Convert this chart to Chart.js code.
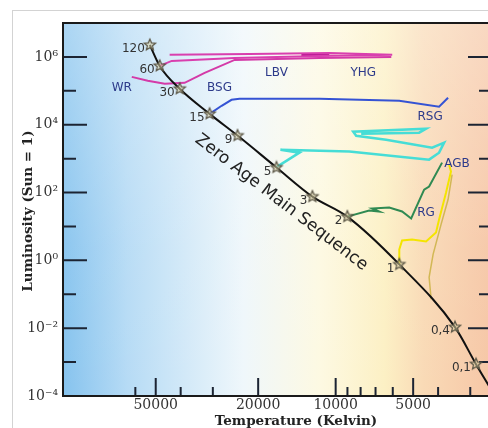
<!DOCTYPE html>
<html>
<head>
<meta charset="utf-8">
<script src="https://cdn.jsdelivr.net/npm/chart.js@4.4.0/dist/chart.umd.min.js"></script>
<style>
  html, body { margin: 0; padding: 0; background: #fff; width: 488px; height: 428px; overflow: hidden; }
  #frame { position: absolute; left: 12px; top: 10px; width: 540px; height: 460px; border: 1px solid #d3d3d3; box-sizing: border-box; }
  #wrap { position: absolute; left: 0; top: 0; width: 500px; height: 428px; }
</style>
</head>
<body>
<div id="frame"></div>
<div id="wrap"><canvas id="hrChart" width="500" height="428"></canvas></div>
<script>
// axes
let tempTicks = [60000, 50000, 40000, 30000, 20000, 10000, 9000, 8000, 7000, 6000, 5000, 4000, 3000];
let tempLabelled = [50000, 20000, 10000, 5000];
let lumTicks = [1e-4, 1e-3, 1e-2, 1e-1, 1, 10, 100, 1e3, 1e4, 1e5, 1e6];
let lumLabels = ['10⁻⁴', '', '10⁻²', '', '10⁰', '', '10²', '', '10⁴', '', '10⁶'];

// zero age main sequence (stars, mass in Sun masses)
let zamsMass = ['120', '60', '30', '15', '9', '5', '3', '2', '1', '0,4', '0,1'];
let zamsTemp = [52700, 48250, 40350, 30880, 24060, 16980, 12310, 9010, 5660, 3440, 2850];
let zamsLum = [2.24e6, 5.43e5, 1.15e5, 2.09e4, 4790, 550, 76, 19.5, 0.76, 0.0107, 0.00087];
let zamsEndTemp = 2538;
let zamsEndLum = 0.000197;

// evolutionary tracks
let track60Temp = [48250, 43350, 24700, 11560, 6030, 10590, 21600, 44150];
let track60Lum = [5.43e5, 7.62e5, 9.35e5, 1.07e6, 1.15e6, 1.31e6, 1.22e6, 1.15e6];
let track30Temp = [61950, 53700, 46130, 38610, 32280, 24700, 11560, 6080];
let track30Lum = [2.58e5, 1.97e5, 1.61e5, 1.72e5, 3.39e5, 8.17e5, 9.35e5, 1.0e6];
let lbvTemp = [13590, 10590];
let lbvLum = [1.15e6, 1.15e6];
let track15Temp = [30880, 27730, 25380, 23630, 11560, 5666, 3965, 3659];
let track15Lum = [20900, 36200, 54300, 58200, 58200, 50800, 33800, 62200];
let track5Temp = [16980, 13830, 16390, 8850, 4335, 3965, 3790, 4220, 6370, 8320, 8545, 4455, 4740, 7960];
let track5Lum = [560, 1500, 1840, 1610, 935, 1500, 2960, 2110, 3620, 4740, 6220, 7620, 5820, 5430];
let track2Temp = [9010, 7410, 6775, 7210, 6195, 5520, 5090, 4532, 4335, 3860];
let track2Lum = [19.5, 29.6, 27.6, 33.9, 36.2, 27.6, 17.2, 122, 150, 762];
let track1Temp = [5660, 5660, 5520, 5045, 4455, 4075, 3965, 3725, 3565, 3627];
let track1Lum = [0.76, 2.11, 3.87, 4.15, 3.62, 6.67, 16.1, 100, 415, 667];
let track1bTemp = [3530, 3659, 3895, 4183, 4335, 4256];
let track1bLum = [338, 62.2, 11.5, 1.5, 0.316, 0.0713];

// region names
let regionNames = ['WR', 'BSG', 'LBV', 'YHG', 'RSG', 'AGB', 'RG'];
let regionTemp = [67700, 28250, 16980, 7810, 4295, 3377, 4455];
let regionLum = [1.22e5, 1.22e5, 3.38e5, 3.38e5, 1.72e4, 713, 25.8];

let zamsText = 'Zero Age Main Sequence';
let zamsTextTemp = 16250;
let zamsTextLum = 50.8;

function pts(t, l) {
    return t.map((v, i) => ({ x: v, y: l[i] }));
}

function makeStar(r) {
    let c = document.createElement('canvas');
    let s = r * 2 + 4;
    c.width = s; c.height = s;
    let g = c.getContext('2d');
    g.beginPath();
    for (let i = 0; i < 10; i++) {
        let a = -Math.PI / 2 + i * Math.PI / 5;
        let rr = i % 2 ? r * 0.45 : r;
        g.lineTo(s / 2 + rr * Math.cos(a), s / 2 + rr * Math.sin(a));
    }
    g.closePath();
    g.fillStyle = 'rgba(215,205,160,0.55)';
    g.fill();
    g.strokeStyle = '#5b5646';
    g.lineWidth = 1.2;
    g.stroke();
    return c;
}

function track(t, l, color, width) {
    return {
        data: pts(t, l),
        showLine: true,
        borderColor: color,
        borderWidth: width,
        pointRadius: 0,
        order: 2
    };
}

const background = {
    id: 'background',
    beforeDraw(chart) {
        let { ctx, chartArea: a } = chart;
        ctx.save();
        let g = ctx.createLinearGradient(a.left, 0, a.right, 0);
        g.addColorStop(0, '#86c3ee');
        g.addColorStop(0.15, '#b6dbf5');
        g.addColorStop(0.42, '#eff7fb');
        g.addColorStop(0.6, '#fdf9e2');
        g.addColorStop(0.75, '#fcf0c4');
        g.addColorStop(0.84, '#f9dab6');
        g.addColorStop(1, '#f6c6a6');
        ctx.fillStyle = g;
        ctx.fillRect(a.left, a.top, a.right - a.left, a.bottom - a.top);
        let v = ctx.createLinearGradient(0, a.top, 0, a.bottom);
        v.addColorStop(0, 'rgba(255,255,255,0.3)');
        v.addColorStop(0.6, 'rgba(255,255,255,0.05)');
        v.addColorStop(1, 'rgba(255,255,255,0)');
        ctx.fillStyle = v;
        ctx.fillRect(a.left, a.top, a.right - a.left, a.bottom - a.top);
        ctx.restore();
    }
};

const tickMarks = {
    id: 'tickMarks',
    beforeDatasetsDraw(chart) {
        let { ctx, chartArea: a, scales: { x, y } } = chart;
        ctx.save();
        ctx.strokeStyle = '#1c2433';
        ctx.lineWidth = 2;
        ctx.beginPath();
        tempTicks.forEach(v => {
            let px = x.getPixelForValue(v);
            let len = tempLabelled.includes(v) ? 18 : 9;
            ctx.moveTo(px, a.bottom);
            ctx.lineTo(px, a.bottom - len);
        });
        lumTicks.forEach((v, i) => {
            let py = y.getPixelForValue(v);
            let len = lumLabels[i] ? 24 : 13;
            ctx.moveTo(a.left, py);
            ctx.lineTo(a.left + len, py);
            ctx.moveTo(a.right, py);
            ctx.lineTo(a.right - len, py);
        });
        ctx.stroke();
        ctx.restore();
    }
};

const texts = {
    id: 'texts',
    afterDraw(chart) {
        let { ctx, chartArea: a, scales: { x, y } } = chart;
        ctx.save();
        // frame
        ctx.strokeStyle = '#1a1a1a';
        ctx.lineWidth = 2;
        ctx.strokeRect(a.left, a.top, a.right - a.left, a.bottom - a.top);

        // masses
        ctx.font = '12px "DejaVu Sans"';
        ctx.fillStyle = '#333';
        ctx.textAlign = 'right';
        ctx.textBaseline = 'middle';
        zamsMass.forEach((m, i) => {
            let px = x.getPixelForValue(zamsTemp[i]);
            let py = y.getPixelForValue(zamsLum[i]);
            ctx.fillText(m, px - 5, py + 4);
        });

        // regions
        ctx.fillStyle = '#2d3a8a';
        ctx.textAlign = 'center';
        regionNames.forEach((n, i) => {
            ctx.fillText(n, x.getPixelForValue(regionTemp[i]), y.getPixelForValue(regionLum[i]));
        });

        // ZAMS text
        ctx.save();
        ctx.translate(x.getPixelForValue(zamsTextTemp), y.getPixelForValue(zamsTextLum));
        ctx.rotate(37.5 * Math.PI / 180);
        ctx.font = '17px "DejaVu Sans"';
        ctx.fillStyle = '#222';
        ctx.fillText(zamsText, 0, 0);
        ctx.restore();

        // axis titles
        ctx.font = 'bold 13.5px "DejaVu Serif"';
        ctx.fillStyle = '#222';
        ctx.fillText('Temperature (Kelvin)', 296, 421);
        ctx.translate(28, 211);
        ctx.rotate(-Math.PI / 2);
        ctx.fillText('Luminosity (Sun = 1)', 0, 0);
        ctx.restore();
    }
};

let stars = makeStar(6);

new Chart(document.getElementById('hrChart'), {
    type: 'scatter',
    data: {
        datasets: [
            {
                data: pts(zamsTemp.concat([zamsEndTemp]), zamsLum.concat([zamsEndLum])),
                showLine: true,
                borderColor: '#111',
                borderWidth: 2,
                pointRadius: 0,
                cubicInterpolationMode: 'monotone',
                order: 1
            },
            track(track60Temp, track60Lum, '#d93fae', 2),
            track(track30Temp, track30Lum, '#d43aa8', 2),
            track(lbvTemp, lbvLum, '#b3168f', 3),
            track(track15Temp, track15Lum, '#3553d4', 2),
            track(track5Temp, track5Lum, '#46ddd6', 2.5),
            track(track2Temp, track2Lum, '#2f8a52', 2),
            track(track1Temp, track1Lum, '#f4e500', 2),
            track(track1bTemp, track1bLum, 'rgba(200,175,60,0.8)', 1.5),
            {
                data: pts(zamsTemp, zamsLum),
                showLine: false,
                pointStyle: stars,
                pointRadius: 7,
                order: 0
            }
        ]
    },
    options: {
        responsive: false,
        animation: false,
        layout: { padding: { top: 23, right: 7, left: 0, bottom: 0 } },
        plugins: { legend: { display: false }, tooltip: { enabled: false } },
        scales: {
            x: {
                type: 'logarithmic',
                reverse: true,
                min: 2470,
                max: 114600,
                grid: { display: false, drawTicks: false },
                border: { display: false },
                afterBuildTicks: s => { s.ticks = tempTicks.map(v => ({ value: v })); },
                afterFit: s => { s.height = 32; },
                ticks: {
                    autoSkip: false,
                    maxRotation: 0,
                    padding: 1,
                    color: '#333',
                    font: { family: 'DejaVu Serif', size: 14 },
                    callback: v => tempLabelled.includes(v) ? String(v) : ''
                }
            },
            y: {
                type: 'logarithmic',
                min: 1e-4,
                max: 1e7,
                grid: { display: false, drawTicks: false },
                border: { display: false },
                afterBuildTicks: s => { s.ticks = lumTicks.map(v => ({ value: v })); },
                afterFit: s => { s.width = 63; },
                ticks: {
                    autoSkip: false,
                    padding: 5,
                    color: '#333',
                    font: { family: 'DejaVu Serif', size: 14 },
                    callback: v => lumLabels[lumTicks.indexOf(v)]
                }
            }
        }
    },
    plugins: [background, tickMarks, texts]
});
</script>
</body>
</html>
